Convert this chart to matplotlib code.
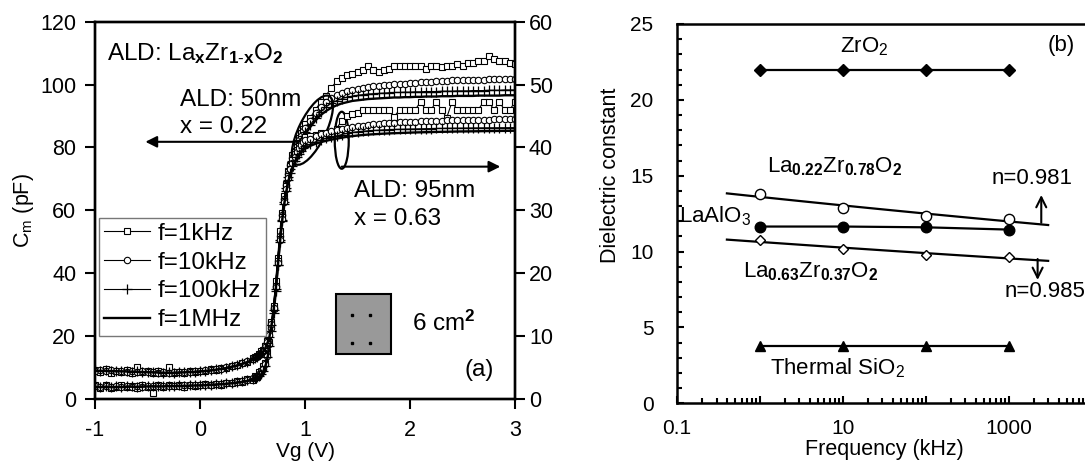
import numpy as np
import matplotlib
matplotlib.use("Agg")
import matplotlib.pyplot as plt
from matplotlib.patches import Ellipse, Rectangle
from matplotlib.transforms import ScaledTranslation
from matplotlib.ticker import MultipleLocator, FuncFormatter, LogLocator, NullFormatter
from matplotlib.mathtext import MathTextParser

plt.rcParams['font.family'] = ['Liberation Sans', 'DejaVu Sans']
plt.rcParams['mathtext.fontset'] = 'custom'
plt.rcParams['mathtext.rm'] = 'Liberation Sans'
plt.rcParams['mathtext.bf'] = 'Liberation Sans:bold'
plt.rcParams['mathtext.it'] = 'Liberation Sans:italic'
plt.rcParams['mathtext.sf'] = 'Liberation Sans'
plt.rcParams['mathtext.default'] = 'regular'

# ---------------- data: panel (a) ----------------
vg = [-1.00, -0.95, -0.90, -0.85, -0.80, -0.75, -0.70, -0.65, -0.60, -0.55,
      -0.50, -0.45, -0.40, -0.35, -0.30, -0.25, -0.20, -0.15, -0.10, -0.05,
      0.00, 0.05, 0.10, 0.15, 0.20, 0.25, 0.30, 0.35, 0.40, 0.45, 0.50,
      0.52, 0.54, 0.56, 0.58, 0.60, 0.62, 0.64, 0.66, 0.68, 0.70,
      0.72, 0.74, 0.76, 0.78, 0.80, 0.82, 0.84, 0.86, 0.88, 0.90,
      0.92, 0.94, 0.96, 0.98, 1.00,
      1.05, 1.10, 1.15, 1.20, 1.25, 1.30, 1.35, 1.40, 1.45, 1.50,
      1.55, 1.60, 1.65, 1.70, 1.75, 1.80, 1.85, 1.90, 1.95, 2.00,
      2.05, 2.10, 2.15, 2.20, 2.25, 2.30, 2.35, 2.40, 2.45, 2.50,
      2.55, 2.60, 2.65, 2.70, 2.75, 2.80, 2.85, 2.90, 2.95, 3.00]

# ALD 50 nm, x = 0.22 (left axis, pF)
c50_1k = [4.3, 3.6, 4.4, 3.5, 3.9, 4.5, 3.7, 4.2, 3.6, 4.4,
          3.8, 2.0, 4.3, 3.9, 4.5, 4.0, 4.4, 3.8, 4.6, 4.2,
          4.4, 4.8, 4.3, 4.9, 4.5, 5.2, 5.0, 5.6, 5.4, 6.3, 6.1,
          7.3, 7.0, 8.6, 8.9, 10.5, 11.6, 14.8, 18.0, 24.0, 29.0,
          37.5, 45.0, 53.5, 59.0, 64.5, 68.5, 72.5, 74.5, 77.5, 79.0,
          81.5, 83.0, 84.5, 86.0, 87.5,
          89.5, 92.0, 94.5, 96.5, 99.0, 101.0, 102.0, 103.0, 103.5, 104.0,
          104.5, 106.0, 104.5, 104.0, 104.5, 105.0, 106.0, 106.0, 106.0, 106.0,
          106.0, 106.0, 105.0, 106.0, 106.0, 105.5, 106.0, 106.0, 106.5, 106.0,
          107.0, 107.0, 107.5, 107.5, 109.0, 108.0, 107.5, 107.5, 107.0, 106.5]
c50_10k = [4.2, 3.9, 4.0, 3.8, 4.1, 3.9, 4.0, 3.8, 4.0, 3.9,
           4.1, 4.0, 4.1, 4.0, 4.2, 4.1, 4.2, 4.3, 4.3, 4.4,
           4.4, 4.5, 4.6, 4.7, 4.9, 5.0, 5.2, 5.5, 5.8, 6.1, 6.6,
           7.0, 7.4, 7.9, 8.6, 9.6, 11.2, 13.8, 17.5, 22.5, 28.5,
           36.0, 44.0, 52.0, 58.5, 63.5, 68.0, 71.5, 74.3, 76.7, 78.8,
           80.6, 82.3, 83.8, 85.1, 86.3,
           88.5, 91.0, 93.0, 94.6, 95.8, 96.7, 97.4, 97.9, 98.3, 98.7,
           99.0, 99.2, 99.4, 99.6, 99.8, 99.9, 100.1, 100.2, 100.3, 100.4,
           100.6, 100.7, 100.8, 100.9, 101.0, 101.1, 101.2, 101.3, 101.3, 101.4,
           101.5, 101.5, 101.6, 101.6, 101.7, 101.7, 101.8, 101.8, 101.9, 101.9]
c50_100k = [4.0, 3.9, 4.1, 3.9, 4.0, 3.8, 4.1, 4.0, 3.9, 4.1,
            4.0, 4.2, 4.0, 4.1, 4.2, 4.1, 4.3, 4.2, 4.4, 4.3,
            4.5, 4.4, 4.6, 4.7, 4.8, 5.0, 5.1, 5.4, 5.6, 5.9, 6.3,
            6.6, 6.9, 7.4, 8.0, 9.0, 10.6, 13.2, 16.8, 21.5, 27.5,
            34.5, 42.5, 50.5, 57.0, 62.5, 67.0, 70.5, 73.3, 75.6, 77.6,
            79.4, 81.0, 82.4, 83.7, 84.9,
            87.2, 89.5, 91.4, 92.9, 94.0, 94.9, 95.5, 96.0, 96.3, 96.6,
            96.8, 97.0, 97.1, 97.2, 97.3, 97.4, 97.5, 97.5, 97.6, 97.6,
            97.7, 97.7, 97.8, 97.8, 97.8, 97.9, 97.9, 97.9, 98.0, 98.0,
            98.0, 98.1, 98.1, 98.1, 98.2, 98.2, 98.2, 98.3, 98.3, 98.3]
c50_1M = [3.8, 3.8, 3.8, 3.8, 3.8, 3.8, 3.9, 3.9, 3.9, 3.9,
          4.0, 4.0, 4.0, 4.0, 4.1, 4.1, 4.1, 4.2, 4.2, 4.3,
          4.3, 4.4, 4.5, 4.6, 4.7, 4.8, 5.0, 5.2, 5.4, 5.7, 6.0,
          6.3, 6.6, 7.0, 7.6, 8.5, 10.0, 12.5, 16.0, 20.5, 26.5,
          33.5, 41.5, 49.5, 56.5, 62.0, 66.5, 70.0, 72.8, 75.0, 77.0,
          78.8, 80.4, 81.8, 83.0, 84.2,
          86.5, 88.6, 90.3, 91.6, 92.6, 93.4, 94.0, 94.4, 94.8, 95.0,
          95.2, 95.4, 95.5, 95.6, 95.7, 95.8, 95.9, 95.9, 96.0, 96.0,
          96.1, 96.1, 96.2, 96.2, 96.2, 96.3, 96.3, 96.3, 96.4, 96.4,
          96.4, 96.4, 96.5, 96.5, 96.5, 96.5, 96.5, 96.6, 96.6, 96.6]

# ALD 95 nm, x = 0.63 (right axis)
c95_1k = [4.6, 4.3, 4.7, 4.2, 4.5, 4.35, 4.6, 4.2, 5.15, 4.3,
          4.4, 4.15, 4.45, 4.1, 5.15, 4.2, 4.35, 4.2, 4.4, 4.3,
          4.5, 4.4, 4.7, 4.6, 4.9, 4.95, 5.3, 5.35, 5.7, 5.9, 6.5,
          6.7, 6.9, 7.2, 7.7, 7.8, 8.5, 9.2, 10.3, 12.2, 14.8,
          18.0, 22.0, 25.5, 29.0, 31.5, 33.8, 35.5, 37.0, 38.0, 39.0,
          39.6, 40.3, 40.6, 41.0, 41.6,
          41.75, 42.0, 42.25, 42.0, 42.25, 43.0, 44.25, 45.0, 45.25, 45.5,
          46.0, 46.0, 46.0, 46.0, 46.0, 46.0, 44.9, 46.0, 46.0, 46.0,
          46.0, 47.25, 46.0, 46.0, 47.25, 46.0, 44.75, 47.25, 46.0, 46.0,
          46.0, 46.0, 46.0, 47.25, 47.25, 46.0, 47.25, 46.0, 46.0, 47.25]
c95_10k = [4.4, 4.6, 4.5, 4.55, 4.4, 4.5, 4.35, 4.45, 4.3, 4.4,
           4.25, 4.35, 4.2, 4.3, 4.2, 4.3, 4.25, 4.35, 4.3, 4.45,
           4.45, 4.55, 4.6, 4.75, 4.85, 5.05, 5.25, 5.45, 5.75, 6.05, 6.4,
           6.6, 6.8, 7.05, 7.35, 7.7, 8.2, 9.0, 10.1, 12.0, 14.5,
           17.8, 21.6, 25.3, 28.6, 31.3, 33.4, 35.2, 36.5, 37.6, 38.5,
           39.3, 39.9, 40.4, 40.8, 41.2,
           41.4, 41.8, 42.1, 42.35, 42.55, 42.75, 42.9, 43.05, 43.2, 43.35,
           43.48, 43.6, 43.7, 43.78, 43.85, 43.9, 43.95, 44.0, 44.04, 44.08,
           44.12, 44.15, 44.18, 44.21, 44.24, 44.27, 44.3, 44.32, 44.34, 44.36,
           44.38, 44.4, 44.42, 44.43, 44.44, 44.45, 44.46, 44.47, 44.48, 44.5]
c95_100k = [4.6, 4.5, 4.55, 4.45, 4.5, 4.4, 4.45, 4.35, 4.4, 4.3,
            4.35, 4.25, 4.3, 4.2, 4.25, 4.2, 4.3, 4.25, 4.35, 4.35,
            4.45, 4.5, 4.6, 4.7, 4.85, 5.0, 5.2, 5.4, 5.65, 5.95, 6.3,
            6.5, 6.7, 6.95, 7.25, 7.6, 8.1, 8.9, 9.9, 11.7, 14.2,
            17.5, 21.3, 25.0, 28.3, 31.0, 33.0, 34.8, 36.0, 37.0, 37.8,
            38.5, 39.0, 39.5, 39.9, 40.2,
            40.5, 40.9, 41.2, 41.45, 41.65, 41.85, 42.05, 42.25, 42.4, 42.5,
            42.58, 42.65, 42.7, 42.75, 42.8, 42.83, 42.86, 42.89, 42.91, 42.93,
            42.95, 42.97, 42.99, 43.0, 43.02, 43.03, 43.05, 43.06, 43.07, 43.08,
            43.09, 43.1, 43.11, 43.12, 43.13, 43.13, 43.14, 43.14, 43.15, 43.15]
c95_1M = [4.50, 4.48, 4.46, 4.44, 4.42, 4.40, 4.38, 4.35, 4.32, 4.30,
          4.27, 4.24, 4.21, 4.18, 4.16, 4.17, 4.20, 4.24, 4.29, 4.34,
          4.40, 4.47, 4.55, 4.65, 4.77, 4.92, 5.10, 5.30, 5.55, 5.85, 6.20,
          6.4, 6.6, 6.85, 7.15, 7.5, 8.0, 8.75, 9.75, 11.5, 14.0,
          17.25, 21.0, 24.75, 28.0, 30.75, 32.75, 34.5, 35.75, 36.75, 37.5,
          38.15, 38.65, 39.1, 39.5, 39.8,
          40.25, 40.6, 40.85, 41.05, 41.25, 41.4, 41.55, 41.7, 41.8, 41.9,
          41.98, 42.05, 42.1, 42.15, 42.2, 42.24, 42.27, 42.3, 42.33, 42.36,
          42.39, 42.41, 42.43, 42.45, 42.47, 42.49, 42.5, 42.52, 42.54, 42.55,
          42.56, 42.57, 42.58, 42.6, 42.61, 42.62, 42.63, 42.64, 42.65, 42.66]

legend_labels = ["f=1kHz", "f=10kHz", "f=100kHz", "f=1MHz"]
left_yticks = [0, 20, 40, 60, 80, 100, 120]
right_yticks = [0, 10, 20, 30, 40, 50, 60]
x_ticks_a = [-1, 0, 1, 2, 3]

# ---------------- data: panel (b) ----------------
freq = [1, 10, 100, 1000]
k_zro2 = [22.0, 22.0, 22.0, 22.0]
k_sio2 = [3.8, 3.8, 3.8, 3.8]
k_laalo3 = [11.65, 11.65, 11.6, 11.45]
k_la022 = [13.8, 12.85, 12.35, 12.15]
k_la063 = [10.75, 10.15, 9.8, 9.65]
fit_range = [0.4, 3000]
b_yticks = [0, 5, 10, 15, 20, 25]
b_xlabels = [0.1, 10, 1000]

W, H, DPI = 1085, 466, 100
fig = plt.figure(figsize=(W / DPI, H / DPI), dpi=DPI)

FS_TICK = 15.5
FS_LAB = 15
FS_ANN = 17.5


def safe_math(s, fallback):
    try:
        MathTextParser('agg').parse(s, dpi=72)
        return s
    except Exception:
        return fallback


title_a = safe_math(r"ALD: La$_{\mathbf{x}}$Zr$_{\mathbf{1}\text{-}\mathbf{x}}$O$_{\mathbf{2}}$",
                    r"ALD: La$_{\mathbf{x}}$Zr$_{\mathbf{1}{-}\mathbf{x}}$O$_{\mathbf{2}}$")

# ================= panel (a) =================
ax1 = fig.add_axes([95 / W, 1 - 399 / H, 420 / W, (399 - 21.7) / H])
ax2 = ax1.twinx()
for ax in (ax1, ax2):
    for s in ax.spines.values():
        s.set_linewidth(1.7)
ax1.set_xlim(-1, 3)
ax1.set_ylim(0, 120)
ax2.set_ylim(0, 60)
ax1.set_xticks(x_ticks_a)
ax1.set_xticklabels(["-1", "0", "1", "2", "3"])
ax1.set_yticks(left_yticks)
ax2.set_yticks(right_yticks)
ax1.tick_params(direction='out', length=7, width=1.5, labelsize=FS_TICK, pad=6.5)
ax2.tick_params(direction='out', length=7, width=1.5, labelsize=FS_TICK, pad=3)
ax1.tick_params(axis='x', pad=8)
ax1.set_xlabel("Vg (V)", fontsize=FS_LAB, labelpad=1)
ax1.set_ylabel("C$_{m}$ (pF)", fontsize=15.5, labelpad=3)

sq = dict(marker='s', ms=4.2, mfc='white', mec='k', mew=0.8, color='k', lw=0.8)
ci = dict(marker='o', ms=4.6, mfc='white', mec='k', mew=0.8, color='k', lw=0.8)
pl = dict(marker='+', ms=7, mec='k', mew=0.9, color='k', lw=0.8)
ln = dict(color='k', lw=1.7)

h1, = ax1.plot(vg, c50_1k, **sq)
h2, = ax1.plot(vg, c50_10k, **ci)
h3, = ax1.plot(vg, c50_100k, **pl)
h4, = ax1.plot(vg, c50_1M, **ln)
ax2.plot(vg, c95_1k, **sq)
ax2.plot(vg, c95_10k, **ci)
ax2.plot(vg, c95_100k, **pl)
ax2.plot(vg, c95_1M, **ln)

leg = ax2.legend([h1, h2, h3, h4], legend_labels, loc='upper left',
                 bbox_to_anchor=(0.01, 0.48), fontsize=17.5, frameon=True,
                 fancybox=False, framealpha=1, edgecolor='#777777',
                 borderpad=0.2, labelspacing=0.28, handlelength=1.9,
                 handletextpad=0.3, borderaxespad=0.0)
leg.get_frame().set_linewidth(1.0)

# annotations panel (a)
ax2.text(-0.89, 110 / 2, title_a, fontsize=17.5, ha='left', va='center')
ax2.text(-0.19, 95 / 2, "ALD: 50nm", fontsize=FS_ANN, ha='left', va='center')
ax2.text(-0.19, 86.6 / 2, "x = 0.22", fontsize=FS_ANN, ha='left', va='center')
ax2.text(1.466, 66.2 / 2, "ALD: 95nm", fontsize=FS_ANN, ha='left', va='center')
ax2.text(1.466, 57.4 / 2, "x = 0.63", fontsize=FS_ANN, ha='left', va='center')
ax2.text(2.02, 24 / 2, "6 cm$^{\\mathbf{2}}$", fontsize=FS_ANN, ha='left', va='center')
ax2.text(2.52, 9.2 / 2, "(a)", fontsize=FS_ANN, ha='left', va='center')

arr = dict(arrowstyle='-|>', color='k', lw=1.5, mutation_scale=17, shrinkA=0, shrinkB=0)
ax1.annotate('', xy=(-0.52, 81.8), xytext=(0.97, 81.8), arrowprops=arr)
ax2.annotate('', xy=(2.86, 73.9 / 2), xytext=(1.35, 73.9 / 2), arrowprops=arr)


def px_ellipse(ax, x, y, w_px, h_px, angle):
    tr = fig.dpi_scale_trans + ScaledTranslation(x, y, ax.transData)
    e = Ellipse((0, 0), w_px / DPI, h_px / DPI, angle=angle, transform=tr,
                fill=False, lw=1.6, ec='k')
    ax.add_patch(e)


px_ellipse(ax2, 1.07, 85.5 / 2, 76, 27, 64)
px_ellipse(ax2, 1.35, 82.3 / 2, 14, 57, 0)

ax2.add_patch(Rectangle((1.295, 14.3 / 2), 0.525, (33.4 - 14.3) / 2, fc='#999999',
                        ec='k', lw=1.5, zorder=3))
ax2.plot([1.45, 1.62, 1.45, 1.62], [26.7 / 2, 26.7 / 2, 17.9 / 2, 17.9 / 2], 's',
         color='k', ms=2, zorder=4)

# ================= panel (b) =================
XL, XR = 677, 1091.5
ax3 = fig.add_axes([XL / W, 1 - 403.3 / H, (XR - XL) / W, (403.3 - 24) / H])
ax3.set_xscale('log')
ax3.set_xlim(0.1, 1e4)
ax3.set_ylim(0, 25)
for s in ax3.spines.values():
    s.set_linewidth(1.8)
ax3.set_yticks(b_yticks)
ax3.yaxis.set_minor_locator(MultipleLocator(1))
ax3.xaxis.set_major_locator(LogLocator(base=10, numticks=20))
ax3.xaxis.set_minor_locator(LogLocator(base=10, subs=np.arange(2, 10), numticks=20))
ax3.xaxis.set_minor_formatter(NullFormatter())
ax3.xaxis.set_major_formatter(FuncFormatter(
    lambda v, p: ("%g" % v) if any(abs(v - b) / b < 1e-6 for b in b_xlabels) else ""))
ax3.tick_params(which='both', direction='in', top=False, right=False, width=1.5,
                labelsize=15)
ax3.tick_params(which='major', length=5)
ax3.tick_params(which='minor', length=3.5)
ax3.tick_params(axis='x', which='major', pad=11)
ax3.tick_params(axis='y', which='major', pad=17)
ax3.set_xlabel("Frequency (kHz)", fontsize=15.5, labelpad=1)
ax3.set_ylabel("Dielectric constant", fontsize=15.5)
ax3.yaxis.set_label_coords(-0.135, 0.6)

ax3.plot(freq, k_zro2, color='k', lw=1.6, marker='D', ms=6.2, mfc='k', mec='k')
ax3.plot(freq, k_sio2, color='k', lw=1.6, marker='^', ms=7.8, mfc='k', mec='k')
ax3.plot(freq, k_laalo3, color='k', lw=1.6, marker='o', ms=7.6, mfc='k', mec='k')


def power_fit(f, k):
    p = np.polyfit(np.log10(f), np.log10(k), 1)
    ff = np.logspace(np.log10(fit_range[0]), np.log10(fit_range[1]), 60)
    return ff, 10 ** np.polyval(p, np.log10(ff))


ff, kk = power_fit(freq, k_la022)
ax3.plot(ff, kk, color='k', lw=1.6)
ff, kk = power_fit(freq, k_la063)
ax3.plot(ff, kk, color='k', lw=1.6)
ax3.plot(freq, k_la022, ls='none', marker='o', ms=7.4, mfc='white', mec='k', mew=1.0)
ax3.plot(freq, k_la063, ls='none', marker='D', ms=5.6, mfc='white', mec='k', mew=1.0)

FS_B = 16
ax3.text(10 ** 1.264, 23.5, "ZrO$_2$", fontsize=FS_B, ha='center', va='center')
ax3.text(10 ** 3.63, 23.6, "(b)", fontsize=FS_B, ha='center', va='center')
ax3.text(10 ** 0.09, 15.6, r"La$_{\mathbf{0.22}}$Zr$_{\mathbf{0.78}}$O$_{\mathbf{2}}$",
         fontsize=FS_B, ha='left', va='center')
ax3.text(10 ** 2.795, 14.83, "n=0.981", fontsize=FS_B, ha='left', va='center')
ax3.text(10 ** -0.98, 12.35, "LaAlO$_3$", fontsize=FS_B, ha='left', va='center')
ax3.text(10 ** -0.2, 8.68, r"La$_{\mathbf{0.63}}$Zr$_{\mathbf{0.37}}$O$_{\mathbf{2}}$",
         fontsize=FS_B, ha='left', va='center')
ax3.text(10 ** 2.954, 7.36, "n=0.985", fontsize=FS_B, ha='left', va='center')
ax3.text(10 ** 0.12, 2.3, "Thermal SiO$_2$", fontsize=FS_B, ha='left', va='center')
arr2 = dict(arrowstyle='->', color='k', lw=1.5, mutation_scale=18, shrinkA=0, shrinkB=0)
ax3.annotate('', xy=(10 ** 3.394, 13.73), xytext=(10 ** 3.394, 11.9), arrowprops=arr2)
ax3.annotate('', xy=(10 ** 3.35, 8.13), xytext=(10 ** 3.35, 9.51), arrowprops=arr2)

fig.savefig("out.png", dpi=DPI)
